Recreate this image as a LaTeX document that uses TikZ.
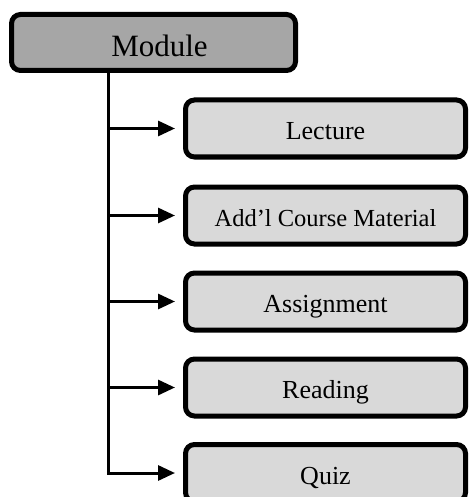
\documentclass[tikz,border=0pt]{standalone}
\usepackage{fontspec}
\setmainfont{Liberation Serif}
\usepackage{tikz}
\usetikzlibrary{arrows.meta,calc}

\begin{document}
\begin{tikzpicture}[x=1pt,y=-1pt,
    topbox/.style={draw, line width=5pt, rounded corners=9pt, fill=black!35,
        minimum width=284pt, minimum height=56pt, inner sep=0pt,
        text height=29pt, text depth=0pt,
        font=\fontsize{31}{34}\selectfont},
    itembox/.style={draw, line width=5pt, rounded corners=9pt, fill=black!15,
        minimum width=280pt, minimum height=57pt, inner sep=0pt,
        text height=22pt, text depth=0pt,
        font=\fontsize{26}{30}\selectfont},
    link/.style={line width=3pt, -{Triangle[length=17pt,width=15pt]}}]

    \useasboundingbox (0,0) rectangle (470,497);

    % Module
    \node[topbox] (module) at (153.5,42.5) {\hspace*{12pt}Module};
    \coordinate (trunk) at (108.5,70);

    % Items
    \node[itembox] (lecture) at (325.5,128.5) {Lecture};
    \node[itembox, font=\fontsize{24.5}{28}\selectfont] (material) at (325.5,215.5) {Add'l Course Material};
    \node[itembox] (assignment) at (325.5,301.5) {Assignment};
    \node[itembox] (reading) at (325.5,387.5) {Reading};
    \node[itembox] (quiz) at (325.5,473) {Quiz};

    % Links
    \draw[line width=3pt] (trunk) -- (trunk |- quiz.west);
    \draw[link] (trunk |- lecture.west) -- ($(lecture.west)+(-8,0)$);
    \draw[link] (trunk |- material.west) -- ($(material.west)+(-8,0)$);
    \draw[link] (trunk |- assignment.west) -- ($(assignment.west)+(-8,0)$);
    \draw[link] (trunk |- reading.west) -- ($(reading.west)+(-8,0)$);
    \draw[link] ($(trunk |- quiz.west)+(-1.5,0)$) -- ($(quiz.west)+(-8,0)$);
\end{tikzpicture}
\end{document}
